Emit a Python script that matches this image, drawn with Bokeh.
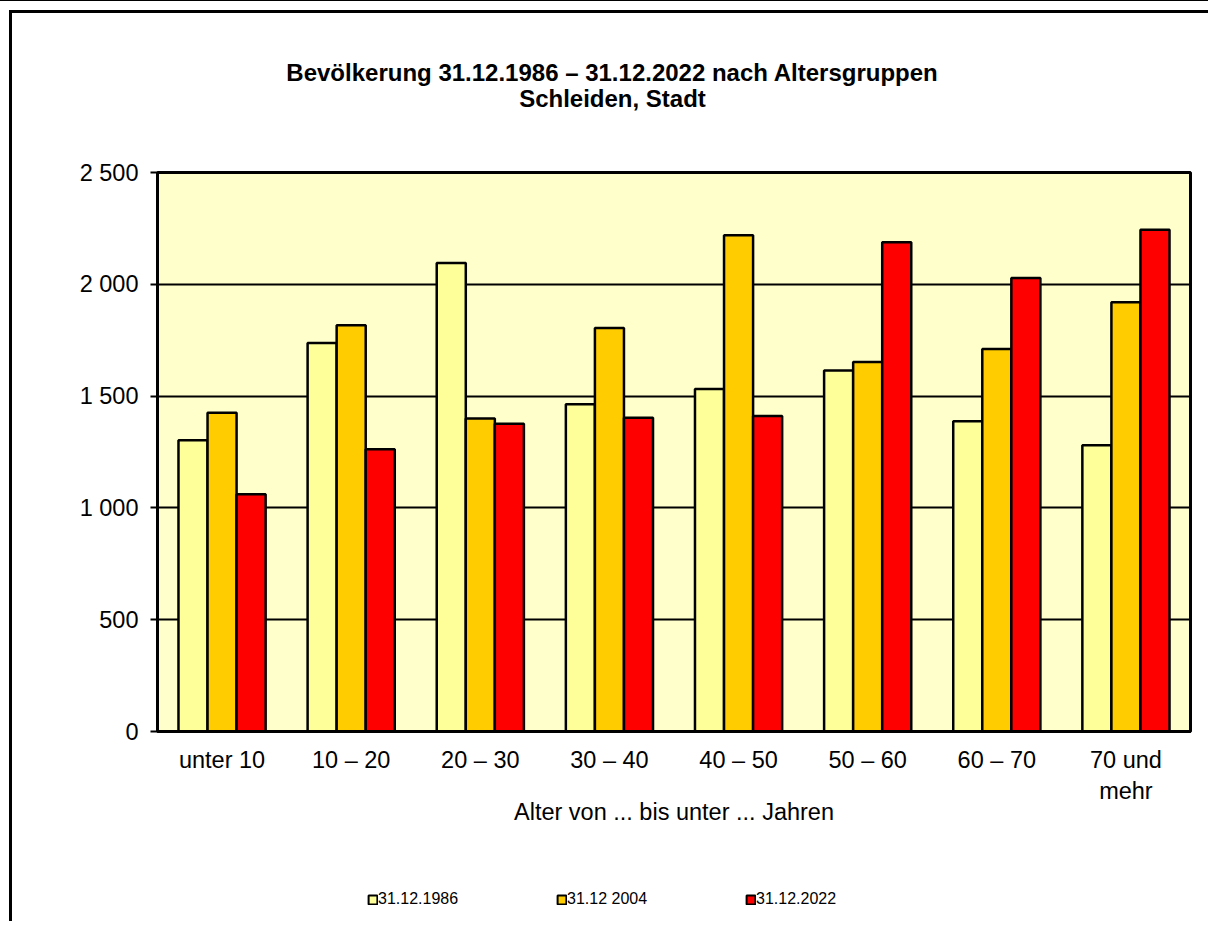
from bokeh.plotting import figure
from bokeh.models import (FactorRange, Range1d, FixedTicker, Legend, LegendItem, Label,
                          ColumnDataSource, Column)
from bokeh.transform import dodge
from bokeh.embed import file_html
from bokeh.resources import INLINE

# ---- data ----
categories = ["unter 10", "10 – 20", "20 – 30", "30 – 40", "40 – 50", "50 – 60", "60 – 70", "70 und\nmehr"]
v1986 = [1302, 1738, 2095, 1463, 1532, 1615, 1388, 1280]
v2004 = [1425, 1817, 1400, 1805, 2219, 1652, 1711, 1920]
v2022 = [1061, 1262, 1376, 1403, 1411, 2188, 2028, 2244]
series_names = ["31.12.1986", "31.12 2004", "31.12.2022"]
series_colors = ["#FFFF99", "#FFCC00", "#FF0000"]
y_ticks = [0, 500, 1000, 1500, 2000, 2500]
y_tick_labels = ["0", "500", "1 000", "1 500", "2 000", "2 500"]
title_lines = ["Bevölkerung 31.12.1986 – 31.12.2022 nach Altersgruppen", "Schleiden, Stadt"]
x_label = "Alter von ... bis unter ... Jahren"

FONT = "Liberation Sans"
source = ColumnDataSource(dict(cat=categories, a=v1986, b=v2004, c=v2022))
cols = ["a", "b", "c"]
bw = 0.225
offsets = [-bw, 0.0, bw]

# ---------------- title strip ----------------
tf = figure(
    width=1196, height=139,
    x_range=Range1d(0, 1033), y_range=Range1d(0, 139),
    x_axis_type=None, y_axis_type=None,
    output_backend="svg", toolbar_location=None, min_border=0,
)
tf.outline_line_color = None
tf.background_fill_color = "white"
tf.border_fill_color = "white"
for txt, yy in zip(title_lines, [80, 54]):
    tf.add_layout(Label(x=455, y=yy, text=txt, text_align="center", text_baseline="middle",
                        text_font=FONT, text_font_size="24px", text_font_style="bold",
                        text_color="black"))

# ---------------- main chart ----------------
p = figure(
    width=1196, height=689,
    x_range=FactorRange(factors=categories),
    y_range=Range1d(0, 2500),
    output_backend="svg", toolbar_location=None,
    min_border_left=145, min_border_right=18, min_border_top=20, min_border_bottom=110,
)
p.background_fill_color = "#FFFFCC"
p.border_fill_color = "white"
p.outline_line_color = "black"
p.outline_line_width = 3

for col, off, color in zip(cols, offsets, series_colors):
    p.vbar(x=dodge("cat", off, range=p.x_range), top=col, width=bw, source=source,
           fill_color=color, line_color="black", line_width=2.5)

p.xgrid.grid_line_color = None
p.ygrid.ticker = FixedTicker(ticks=y_ticks)
p.ygrid.grid_line_color = "black"
p.ygrid.grid_line_width = 2

p.yaxis.ticker = FixedTicker(ticks=y_ticks)
p.yaxis.major_label_overrides = {t: l for t, l in zip(y_ticks, y_tick_labels)}
p.yaxis.axis_line_width = 3
p.yaxis.major_tick_line_width = 2
p.yaxis.major_tick_out = 7
p.yaxis.major_tick_in = 0
p.yaxis.minor_tick_line_color = None
p.yaxis.major_label_standoff = 12
p.yaxis.major_label_text_font = FONT
p.yaxis.major_label_text_font_size = "23.5px"
p.yaxis.major_label_text_color = "black"

p.xaxis.axis_line_width = 3
p.xaxis.major_tick_line_color = None
p.xaxis.minor_tick_line_color = None
p.xaxis.major_label_standoff = 9
p.xaxis.major_label_text_font = FONT
p.xaxis.major_label_text_font_size = "23.5px"
p.xaxis.major_label_text_color = "black"
p.xaxis.axis_label = x_label
p.xaxis.axis_label_text_font = FONT
p.xaxis.axis_label_text_font_size = "23.5px"
p.xaxis.axis_label_text_font_style = "normal"
p.xaxis.axis_label_text_color = "black"
p.xaxis.axis_label_standoff = -8

# ---------------- legend strip ----------------
lf = figure(
    width=1196, height=80,
    x_range=FactorRange(factors=categories), y_range=Range1d(0, 2500),
    x_axis_type=None, y_axis_type=None,
    output_backend="svg", toolbar_location=None, min_border=0,
)
lf.outline_line_color = None
lf.background_fill_color = "white"
lf.border_fill_color = "white"
leg_renderers = []
for col, off, color in zip(cols, offsets, series_colors):
    r = lf.vbar(x=dodge("cat", off, range=lf.x_range), top=col, width=bw, source=source,
                fill_color=color, line_color="black", line_width=2, visible=False)
    leg_renderers.append(r)

legend = Legend(
    items=[LegendItem(label=n, renderers=[r]) for n, r in zip(series_names, leg_renderers)],
    orientation="horizontal", location=(210, 13),
    label_width=178, spacing=0, glyph_width=11, glyph_height=11, label_standoff=0,
    padding=0, margin=0, border_line_color=None, background_fill_alpha=0,
    inactive_fill_alpha=0,
    label_text_font=FONT, label_text_font_size="16px", label_text_color="black",
)
lf.add_layout(legend, "center")

inner = Column(children=[tf, p, lf], spacing=0,
               styles={"margin-left": "9px", "margin-top": "9px",
                       "border-left": "3px solid black", "border-top": "3px solid black"})
page = Column(children=[inner], styles={"border-top": "1px solid black"})

open("out.html", "w").write(file_html(page, INLINE))
